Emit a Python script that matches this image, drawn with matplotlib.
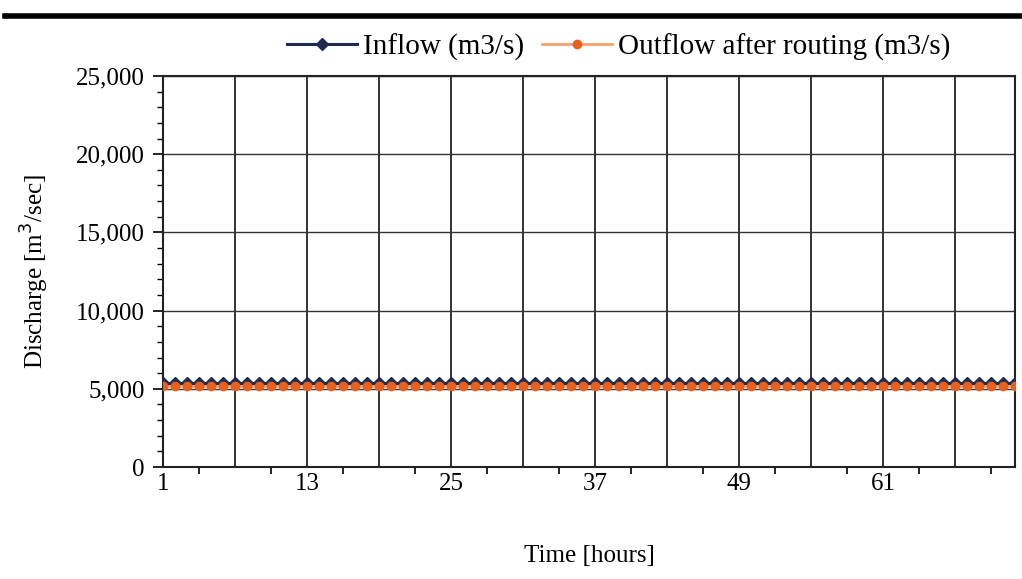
import matplotlib
matplotlib.use("Agg")
import matplotlib.pyplot as plt
from matplotlib.ticker import FuncFormatter

plt.rcParams['font.family'] = ['Liberation Serif', 'DejaVu Serif']

# hourly time steps and discharge (m3/s)
hours = list(range(1, 73))
inflow = [5350, 5350, 5350, 5350, 5350, 5350, 5350, 5350, 5350, 5350, 5350, 5350,
          5350, 5350, 5350, 5350, 5350, 5350, 5350, 5350, 5350, 5350, 5350, 5350,
          5350, 5350, 5350, 5350, 5350, 5350, 5350, 5350, 5350, 5350, 5350, 5350,
          5350, 5350, 5350, 5350, 5350, 5350, 5350, 5350, 5350, 5350, 5350, 5350,
          5350, 5350, 5350, 5350, 5350, 5350, 5350, 5350, 5350, 5350, 5350, 5350,
          5350, 5350, 5350, 5350, 5350, 5350, 5350, 5350, 5350, 5350, 5350, 5350]
outflow = [5150, 5150, 5150, 5150, 5150, 5150, 5150, 5150, 5150, 5150, 5150, 5150,
           5150, 5150, 5150, 5150, 5150, 5150, 5150, 5150, 5150, 5150, 5150, 5150,
           5150, 5150, 5150, 5150, 5150, 5150, 5150, 5150, 5150, 5150, 5150, 5150,
           5150, 5150, 5150, 5150, 5150, 5150, 5150, 5150, 5150, 5150, 5150, 5150,
           5150, 5150, 5150, 5150, 5150, 5150, 5150, 5150, 5150, 5150, 5150, 5150,
           5150, 5150, 5150, 5150, 5150, 5150, 5150, 5150, 5150, 5150, 5150, 5150]
x_labels = [1, 13, 25, 37, 49, 61]
x_grid = [7, 13, 19, 25, 31, 37, 43, 49, 55, 61, 67]
x_minor = [4, 10, 16, 22, 28, 34, 40, 46, 52, 58, 64, 70]

fig = plt.figure(figsize=(10.22, 5.79), dpi=100)
ax = fig.add_axes([163/1022, 1-467/579, (1015-163)/1022, (467-76)/579])

ax.plot(hours, inflow, color='#1f2a4f', marker='D', markersize=6.5, linewidth=2.2,
        label='Inflow (m3/s)', zorder=3)
ax.plot(hours, outflow, color='#f5a070', marker='o', markersize=6, linewidth=2,
        markerfacecolor='#e8601c', markeredgecolor='#e8601c',
        label='Outflow after routing (m3/s)', zorder=4)

ax.set_xlim(1, 72)
ax.set_ylim(0, 25000)

# gridlines
for g in x_grid:
    ax.axvline(g, color='#333333', linewidth=1.4, zorder=1)
for yv in range(5000, 25001, 5000):
    ax.axhline(yv, color='#333333', linewidth=1.0, zorder=1)

ax.set_xticks(x_labels)
ax.set_xticklabels([str(v) for v in x_labels])
ax.set_xticks(x_minor, minor=True)
ax.tick_params(axis='x', which='major', length=0, pad=4, labelsize=18)
ax.tick_params(axis='x', which='minor', length=5, width=1.2, direction='out')

ax.set_yticks(range(0, 25001, 5000))
ax.set_yticks(range(0, 25001, 1000), minor=True)
ax.yaxis.set_major_formatter(FuncFormatter(lambda v, p: f"{int(v):,}"))
ax.tick_params(axis='y', which='major', length=7, width=1.2, labelsize=18, pad=6)
ax.tick_params(axis='y', which='minor', length=4, width=1.0)

for s in ax.spines.values():
    s.set_linewidth(1.5)
    s.set_color('#222222')

ax.set_ylabel('Discharge [m$^3$/sec]', fontsize=18, labelpad=18)
ax.set_xlabel('Time [hours]', fontsize=18, labelpad=36)

ax.legend(loc='lower center', bbox_to_anchor=(0.535, 1.005), ncol=2, frameon=False,
          fontsize=21, handlelength=2.4, columnspacing=0.6, handletextpad=0.2,
          borderaxespad=0.05)

# thick rule at the top of the figure
fig.add_artist(plt.Line2D([0.005, 1.0], [1-16/579, 1-16/579], color='black',
                          linewidth=4, transform=fig.transFigure))

fig.savefig('out.png', dpi=100)
